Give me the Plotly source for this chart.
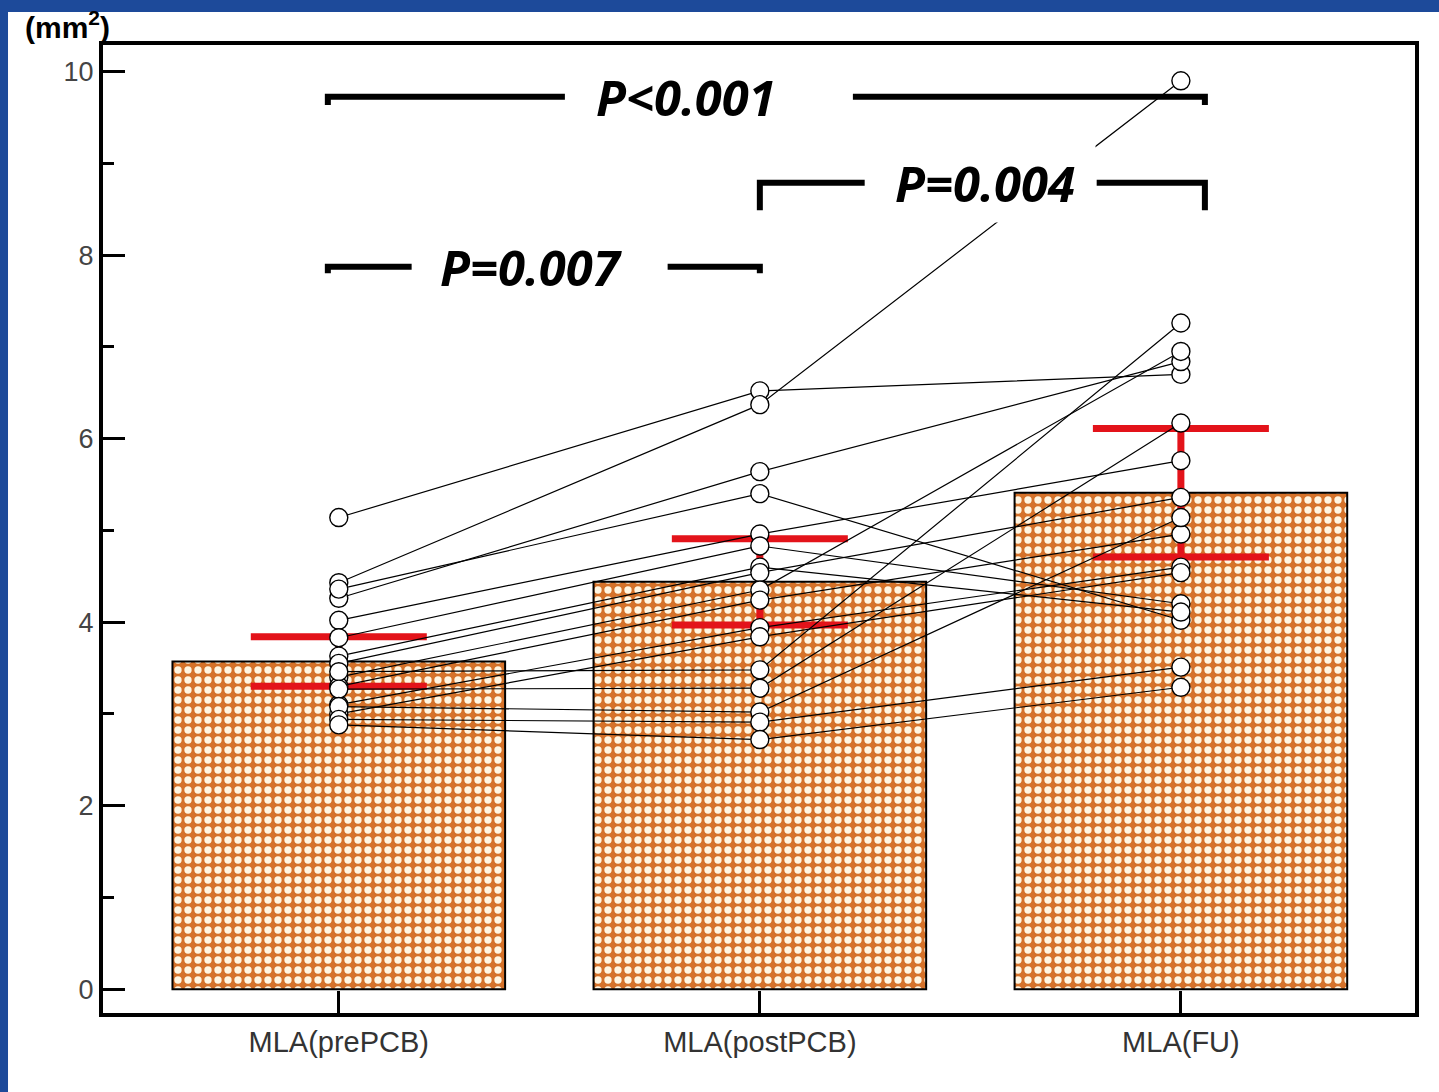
import plotly.graph_objects as go

# ---------------- data ----------------
categories = ["MLA(prePCB)", "MLA(postPCB)", "MLA(FU)"]
bar_means = [3.57, 4.44, 5.41]
bar_err = [0.27, 0.47, 0.70]

# individual patients (pre, post, follow-up), mm^2
mla_pre  = [5.14, 4.43, 4.26, 4.36, 4.02, 3.83, 3.63, 3.55, 3.40, 3.30, 3.10, 3.00, 3.46, 3.27, 3.08, 2.94, 2.88]
mla_post = [6.52, 6.37, 5.64, 5.40, 4.96, 4.83, 4.60, 4.54, 4.35, 4.24, 3.94, 3.84, 3.48, 3.28, 3.02, 2.91, 2.72]
mla_fu   = [6.70, 9.90, 6.84, 4.02, 5.76, 4.20, 4.11, 5.36, 6.95, 4.96, 4.60, 4.54, 7.26, 6.17, 5.14, 3.51, 3.29]

y_ticks = [0, 2, 4, 6, 8, 10]

# comparisons: (from index, to index, label)
comparisons = [(0, 2, "P<0.001"), (1, 2, "P=0.004"), (0, 1, "P=0.007")]

# ---------------- styles ----------------
ORANGE = "#d5722a"
CREAM = "#fff6e2"
RED = "#e3131a"
BLUE = "#1d4a9a"

fig = go.Figure()

fig.add_trace(go.Bar(
    x=categories, y=bar_means, width=0.79,
    marker=dict(color=ORANGE, line=dict(color="black", width=2),
                pattern=dict(shape=".", fgcolor=CREAM, bgcolor=ORANGE,
                             size=10, solidity=0.42, fillmode="replace")),
    error_y=dict(type="data", array=bar_err, color=RED, thickness=7, width=88),
    showlegend=False, hoverinfo="skip",
))

xs, ys = [], []
for a, b, c in zip(mla_pre, mla_post, mla_fu):
    xs += [categories[0], categories[1], categories[2], None]
    ys += [a, b, c, None]

fig.add_trace(go.Scatter(
    x=xs, y=ys, mode="lines+markers", connectgaps=False,
    line=dict(color="black", width=1.2),
    marker=dict(size=18, color="white", line=dict(color="black", width=1.4)),
    showlegend=False, hoverinfo="skip",
))

# white slide area over blue frame
shapes = [dict(type="rect", xref="paper", yref="paper", x0=-0.0724, x1=1.05,
               y0=-0.1, y1=1.034, fillcolor="white", line=dict(width=0), layer="below")]

# significance brackets
bracket_specs = {
    "P<0.001": dict(xl=-0.026, xr=2.057, y=9.727, hook=0.09, gl=0.537, gr=1.221, tx=0.824),
    "P=0.004": dict(xl=1.0, xr=2.057, y=8.79, hook=0.30, gl=1.249, gr=1.800, tx=1.534),
    "P=0.007": dict(xl=-0.026, xr=1.0, y=7.873, hook=0.07, gl=0.173, gr=0.781, tx=0.458),
}
annotations = []
for i0, i1, lab in comparisons:
    s = bracket_specs[lab]
    shapes.append(dict(type="path", xref="x", yref="y", layer="above",
                       path=f"M {s['xl']},{s['y']-s['hook']} L {s['xl']},{s['y']} L {s['gl']},{s['y']}",
                       line=dict(color="black", width=6)))
    shapes.append(dict(type="path", xref="x", yref="y", layer="above",
                       path=f"M {s['gr']},{s['y']} L {s['xr']},{s['y']} L {s['xr']},{s['y']-s['hook']}",
                       line=dict(color="black", width=6)))
    annotations.append(dict(x=s["tx"], y=s["y"], xref="x", yref="y", showarrow=False,
                            text=f"<b><i>{lab}</i></b>",
                            font=dict(family="Open Sans, Liberation Sans, sans-serif", size=49, color="black"),
                            xanchor="center", yanchor="middle",
                            bgcolor="white" if lab == "P=0.004" else "rgba(0,0,0,0)",
                            width=218 if lab == "P=0.004" else None,
                            height=76 if lab == "P=0.004" else None))

annotations.append(dict(x=-0.0274, y=1.021, xref="paper", yref="paper", showarrow=False,
                        text="<b>(mm<sup>2</sup>)</b>", xanchor="center", yanchor="middle",
                        font=dict(family="Liberation Sans, Arial, sans-serif", size=30, color="black")))

fig.update_layout(
    width=1439, height=1092,
    margin=dict(l=103, r=24, t=45, b=79),
    paper_bgcolor=BLUE, plot_bgcolor="white",
    shapes=shapes, annotations=annotations,
    bargap=0.2,
)
fig.update_xaxes(
    range=[-0.56, 2.556], showline=True, linewidth=4, linecolor="black", mirror=True,
    ticks="inside", ticklen=22, tickwidth=3, tickcolor="black", showgrid=False,
    tickfont=dict(family="Liberation Sans, Arial, sans-serif", size=29, color="#333"),
)
fig.update_yaxes(
    range=[-0.26, 10.29], tickvals=y_ticks, showline=True, linewidth=4, linecolor="black", mirror=True,
    ticks="inside", ticklen=22, tickwidth=3, tickcolor="black", showgrid=False, zeroline=False,
    minor=dict(ticks="inside", ticklen=11, tickwidth=3, tickcolor="black", dtick=1, showgrid=False),
    tickfont=dict(family="Liberation Sans, Arial, sans-serif", size=27, color="#444"),
)

fig.write_html("out.html")
